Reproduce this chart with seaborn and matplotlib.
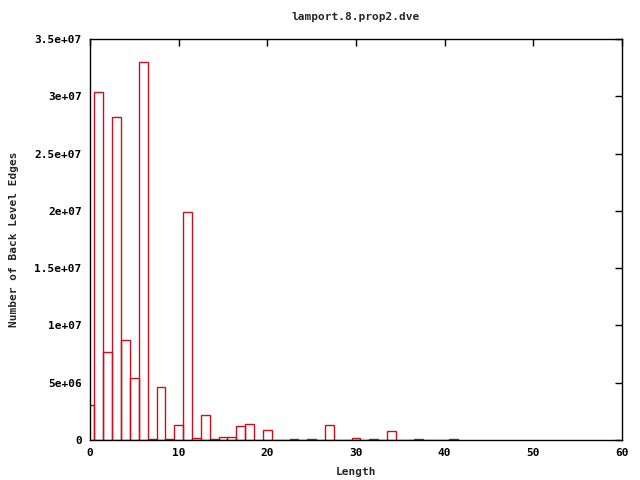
import matplotlib
matplotlib.use('Agg')
import matplotlib.pyplot as plt
import seaborn as sns
import numpy as np
from matplotlib.ticker import FuncFormatter

# back level edge counts per length
lengths = [0, 1, 2, 3, 4, 5, 6, 7, 8, 9, 10, 11, 12, 13, 14, 15, 16, 17, 18,
           20, 23, 25, 27, 30, 32, 34, 37, 41]
counts_m = [3.05, 30.4, 7.7, 28.2, 8.7, 5.45, 33.0, 0.1, 4.65, 0.1, 1.3, 19.9,
            0.15, 2.15, 0.1, 0.25, 0.25, 1.2, 1.4, 0.85, 0.08, 0.08, 1.3, 0.16,
            0.08, 0.77, 0.08, 0.08]
counts = [c * 1e6 for c in counts_m]

sns.set_style('white')
plt.rcParams['font.family'] = ['DejaVu Sans Mono']
plt.rcParams['font.weight'] = 'bold'

fig = plt.figure(figsize=(6.4, 4.8), dpi=100)
ax = fig.add_axes([90/640, 40/480, 532/640, 401/480])

sns.histplot(x=lengths, weights=counts, discrete=True, fill=False,
             color='#c8101e', linewidth=1.0, ax=ax)

ax.set_xlim(0, 60)
ax.set_ylim(0, 3.5e7)
ax.set_xticks(np.arange(0, 61, 10))
ax.set_yticks(np.arange(0, 3.51e7, 5e6))
ax.yaxis.set_major_formatter(FuncFormatter(lambda v, p: '%g' % v))
ax.tick_params(direction='in', length=5, width=1, top=True, right=True,
               labelsize=8, pad=6, colors='black')
for s in ax.spines.values():
    s.set_color('black')
    s.set_linewidth(1)

ax.set_title('lamport.8.prop2.dve', fontsize=8, fontweight='bold', pad=14)
ax.set_xlabel('Length', fontsize=8, fontweight='bold', labelpad=6)
ax.set_ylabel('Number of Back Level Edges', fontsize=8, fontweight='bold', labelpad=11)

fig.savefig('out.png', dpi=100)
